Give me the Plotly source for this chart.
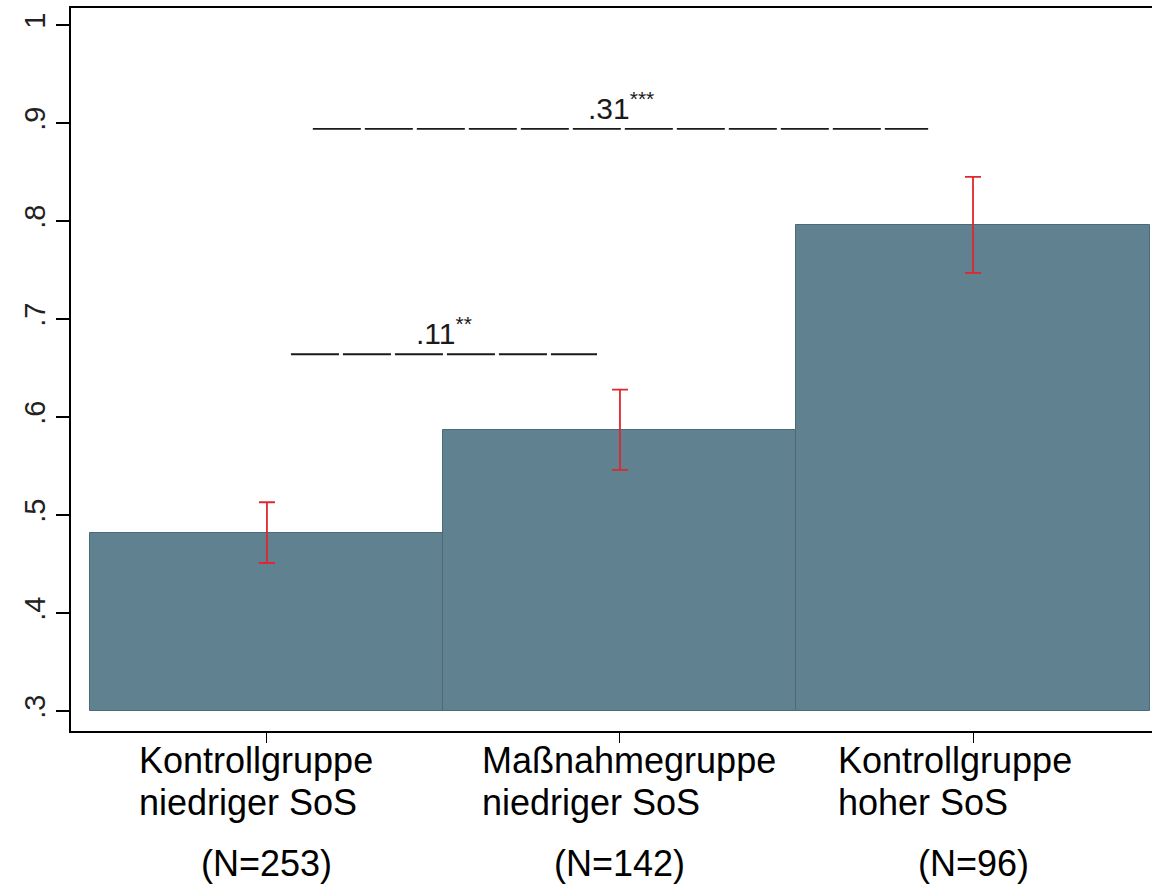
import plotly.graph_objects as go

# Group labels (two lines each), sample sizes, group means and CI half-widths
group_line1 = ["Kontrollgruppe", "Maßnahmegruppe", "Kontrollgruppe"]
group_line2 = ["niedriger SoS", "niedriger SoS", "hoher SoS"]
n_obs = [253, 142, 96]
means = [0.482, 0.587, 0.796]
ci_half = [0.031, 0.041, 0.049]

# Pairwise differences shown above the bars
diff_values = [".11", ".31"]
diff_stars = ["**", "***"]
bracket_from = [0.068, 0.130]
bracket_to = [0.935, 1.873]
bracket_level = [0.664, 0.894]

y_ticks = [0.3, 0.4, 0.5, 0.6, 0.7, 0.8, 0.9, 1.0]
y_tick_text = [".3", ".4", ".5", ".6", ".7", ".8", ".9", "1"]

BASE = 0.3
FONT = "Liberation Sans, Arial, sans-serif"
BAR_COLOR = "#5f8190"
BAR_EDGE = "#4c6977"
ERR_COLOR = "#e0262e"

xpos = list(range(len(group_line1)))

fig = go.Figure()

fig.add_trace(go.Bar(
    x=xpos,
    y=[m - BASE for m in means],
    base=BASE,
    width=1.0,
    marker=dict(color=BAR_COLOR, line=dict(color=BAR_EDGE, width=1)),
    hoverinfo="skip",
    showlegend=False,
))

# Confidence intervals drawn at each group mean
fig.add_trace(go.Scatter(
    x=xpos,
    y=means,
    mode="markers",
    marker=dict(size=1, opacity=0),
    error_y=dict(type="data", array=ci_half, visible=True,
                 color=ERR_COLOR, thickness=1.8, width=8),
    showlegend=False,
    hoverinfo="skip",
))

# Significance brackets with the difference labels
for x0, x1, yl, val, stars in zip(bracket_from, bracket_to, bracket_level,
                                  diff_values, diff_stars):
    fig.add_shape(type="line", xref="x", yref="y",
                  x0=x0, x1=x1, y0=yl, y1=yl,
                  line=dict(color="#1a1a1a", width=1.8, dash="48px,4px"))
    fig.add_annotation(x=(x0 + x1) / 2, y=yl, xref="x", yref="y",
                       text=f"{val}<sup>{stars}</sup>",
                       showarrow=False, xanchor="center", yanchor="bottom",
                       yshift=3, borderpad=0,
                       font=dict(family=FONT, size=30, color="#1a1a1a"))

# Category labels below the axis: two left-aligned lines plus the sample size
label_left = [-129, -139, -136]
for xp, l1, l2, n, dx in zip(xpos, group_line1, group_line2, n_obs, label_left):
    for txt, dy in ((l1, -8), (l2, -50)):
        fig.add_annotation(x=xp, y=0, xref="x", yref="paper",
                           text=txt, showarrow=False,
                           xanchor="left", yanchor="top", xshift=dx,
                           yshift=dy, borderpad=0,
                           font=dict(family=FONT, size=36, color="#000000"))
    fig.add_annotation(x=xp, y=0, xref="x", yref="paper",
                       text=f"(N={n})", showarrow=False,
                       xanchor="center", yanchor="top",
                       yshift=-111, borderpad=0,
                       font=dict(family=FONT, size=36, color="#000000"))

fig.update_layout(
    width=1152, height=888,
    margin=dict(l=71, r=0, t=8, b=157, pad=0),
    paper_bgcolor="white", plot_bgcolor="white",
    bargap=0,
    font=dict(family=FONT, color="#000000"),
    xaxis=dict(range=[-0.555, 2.507], showgrid=False, zeroline=False,
               showline=True, linecolor="black", linewidth=1.5, mirror=True,
               tickvals=xpos, ticks="outside", ticklen=10, tickwidth=1.3,
               tickcolor="black", showticklabels=False),
    yaxis=dict(range=[0.2796, 1.0173], showgrid=False, zeroline=False,
               showline=True, linecolor="black", linewidth=1.5,
               tickvals=y_ticks, ticktext=y_tick_text, ticks="outside",
               ticklen=13, tickwidth=1.5, tickcolor="black",
               tickangle=-90,
               tickfont=dict(family=FONT, size=29, color="#222222")),
)

fig.write_html("out.html")
